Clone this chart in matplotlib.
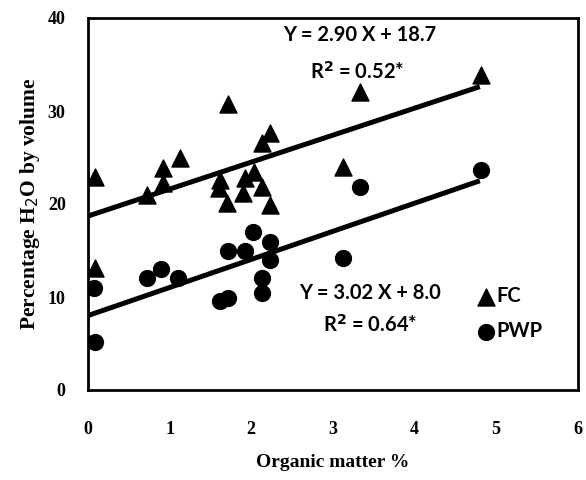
import matplotlib
matplotlib.use("Agg")
import matplotlib.pyplot as plt
import numpy as np

# organic matter (%) and water content (% by volume)
fc_om = [0.09, 0.09, 0.72, 0.92, 0.92, 1.13, 1.62, 1.60, 1.70, 1.92, 1.90,
         2.04, 2.13, 2.23, 1.71, 2.13, 2.23, 3.12, 3.33, 4.82]
fc_h2o = [22.9, 13.1, 21.0, 23.9, 22.3, 24.9, 22.6, 21.7, 20.1, 22.8, 21.2,
          23.4, 21.8, 19.9, 30.7, 26.6, 27.6, 24.0, 32.0, 33.9]

pwp_om = [0.08, 0.09, 0.72, 0.90, 1.10, 1.62, 1.71, 1.71, 1.92, 2.02, 2.23,
          2.23, 2.13, 2.13, 3.12, 3.33, 4.82]
pwp_h2o = [11.0, 5.2, 12.0, 13.0, 12.0, 9.6, 9.9, 15.0, 15.0, 17.0, 15.9,
           14.0, 12.0, 10.4, 14.2, 21.8, 23.7]

# regression lines given in the figure
fc_fit = (2.90, 18.7)
pwp_fit = (3.02, 8.0)
fit_x = [0.0, 4.8]

serif = "Liberation Serif"
sans = "Lato"

fig = plt.figure(figsize=(5.86, 4.8), dpi=100)
ax = fig.add_axes([0.150, 0.1875, 0.836, 0.775])

xs = np.array(fit_x)
ax.plot(xs, fc_fit[0] * xs + fc_fit[1], color="black", lw=3.6, solid_capstyle="butt", zorder=2)
ax.plot(xs, pwp_fit[0] * xs + pwp_fit[1], color="black", lw=3.6, solid_capstyle="butt", zorder=2)

ax.scatter(fc_om, fc_h2o, marker="^", s=150, color="black", zorder=3, label="FC")
ax.scatter(pwp_om, pwp_h2o, marker="o", s=130, color="black", zorder=3, label="PWP")

ax.set_xlim(0, 6)
ax.set_ylim(0, 40)
ax.set_xticks(range(0, 7))
ax.set_yticks(range(0, 41, 10))
ax.tick_params(length=0)
ax.tick_params(axis="x", pad=22)
ax.tick_params(axis="y", pad=16)
for lab in ax.get_xticklabels() + ax.get_yticklabels():
    lab.set_fontfamily(serif)
    lab.set_fontweight("bold")
    lab.set_fontsize(13)
for sp in ax.spines.values():
    sp.set_linewidth(2)

ax.set_xlabel("Organic matter %", fontfamily=serif, fontweight="bold", fontsize=14, labelpad=12)
ax.set_ylabel("Percentage H$_2$O by volume", fontfamily=serif, fontweight="bold", fontsize=15.5, labelpad=4)

txt = dict(fontfamily=sans, fontweight="bold", fontsize=14.5, ha="center", va="center")
ax.text(3.33, 38.2, "Y = 2.90 X + 18.7", **txt)
ax.text(3.30, 34.2, "R$^\\mathbf{2}$ = 0.52*", **txt)
ax.text(3.45, 10.4, "Y = 3.02 X + 8.0", **txt)
ax.text(3.46, 7.0, "R$^\\mathbf{2}$ = 0.64*", **txt)

leg = ax.legend(loc="lower left", bbox_to_anchor=(0.755, 0.11), frameon=False,
                handletextpad=-0.5, labelspacing=0.75, borderaxespad=0,
                prop=dict(family=sans, weight="bold", size=14.5))

fig.savefig("out.png", dpi=100)
